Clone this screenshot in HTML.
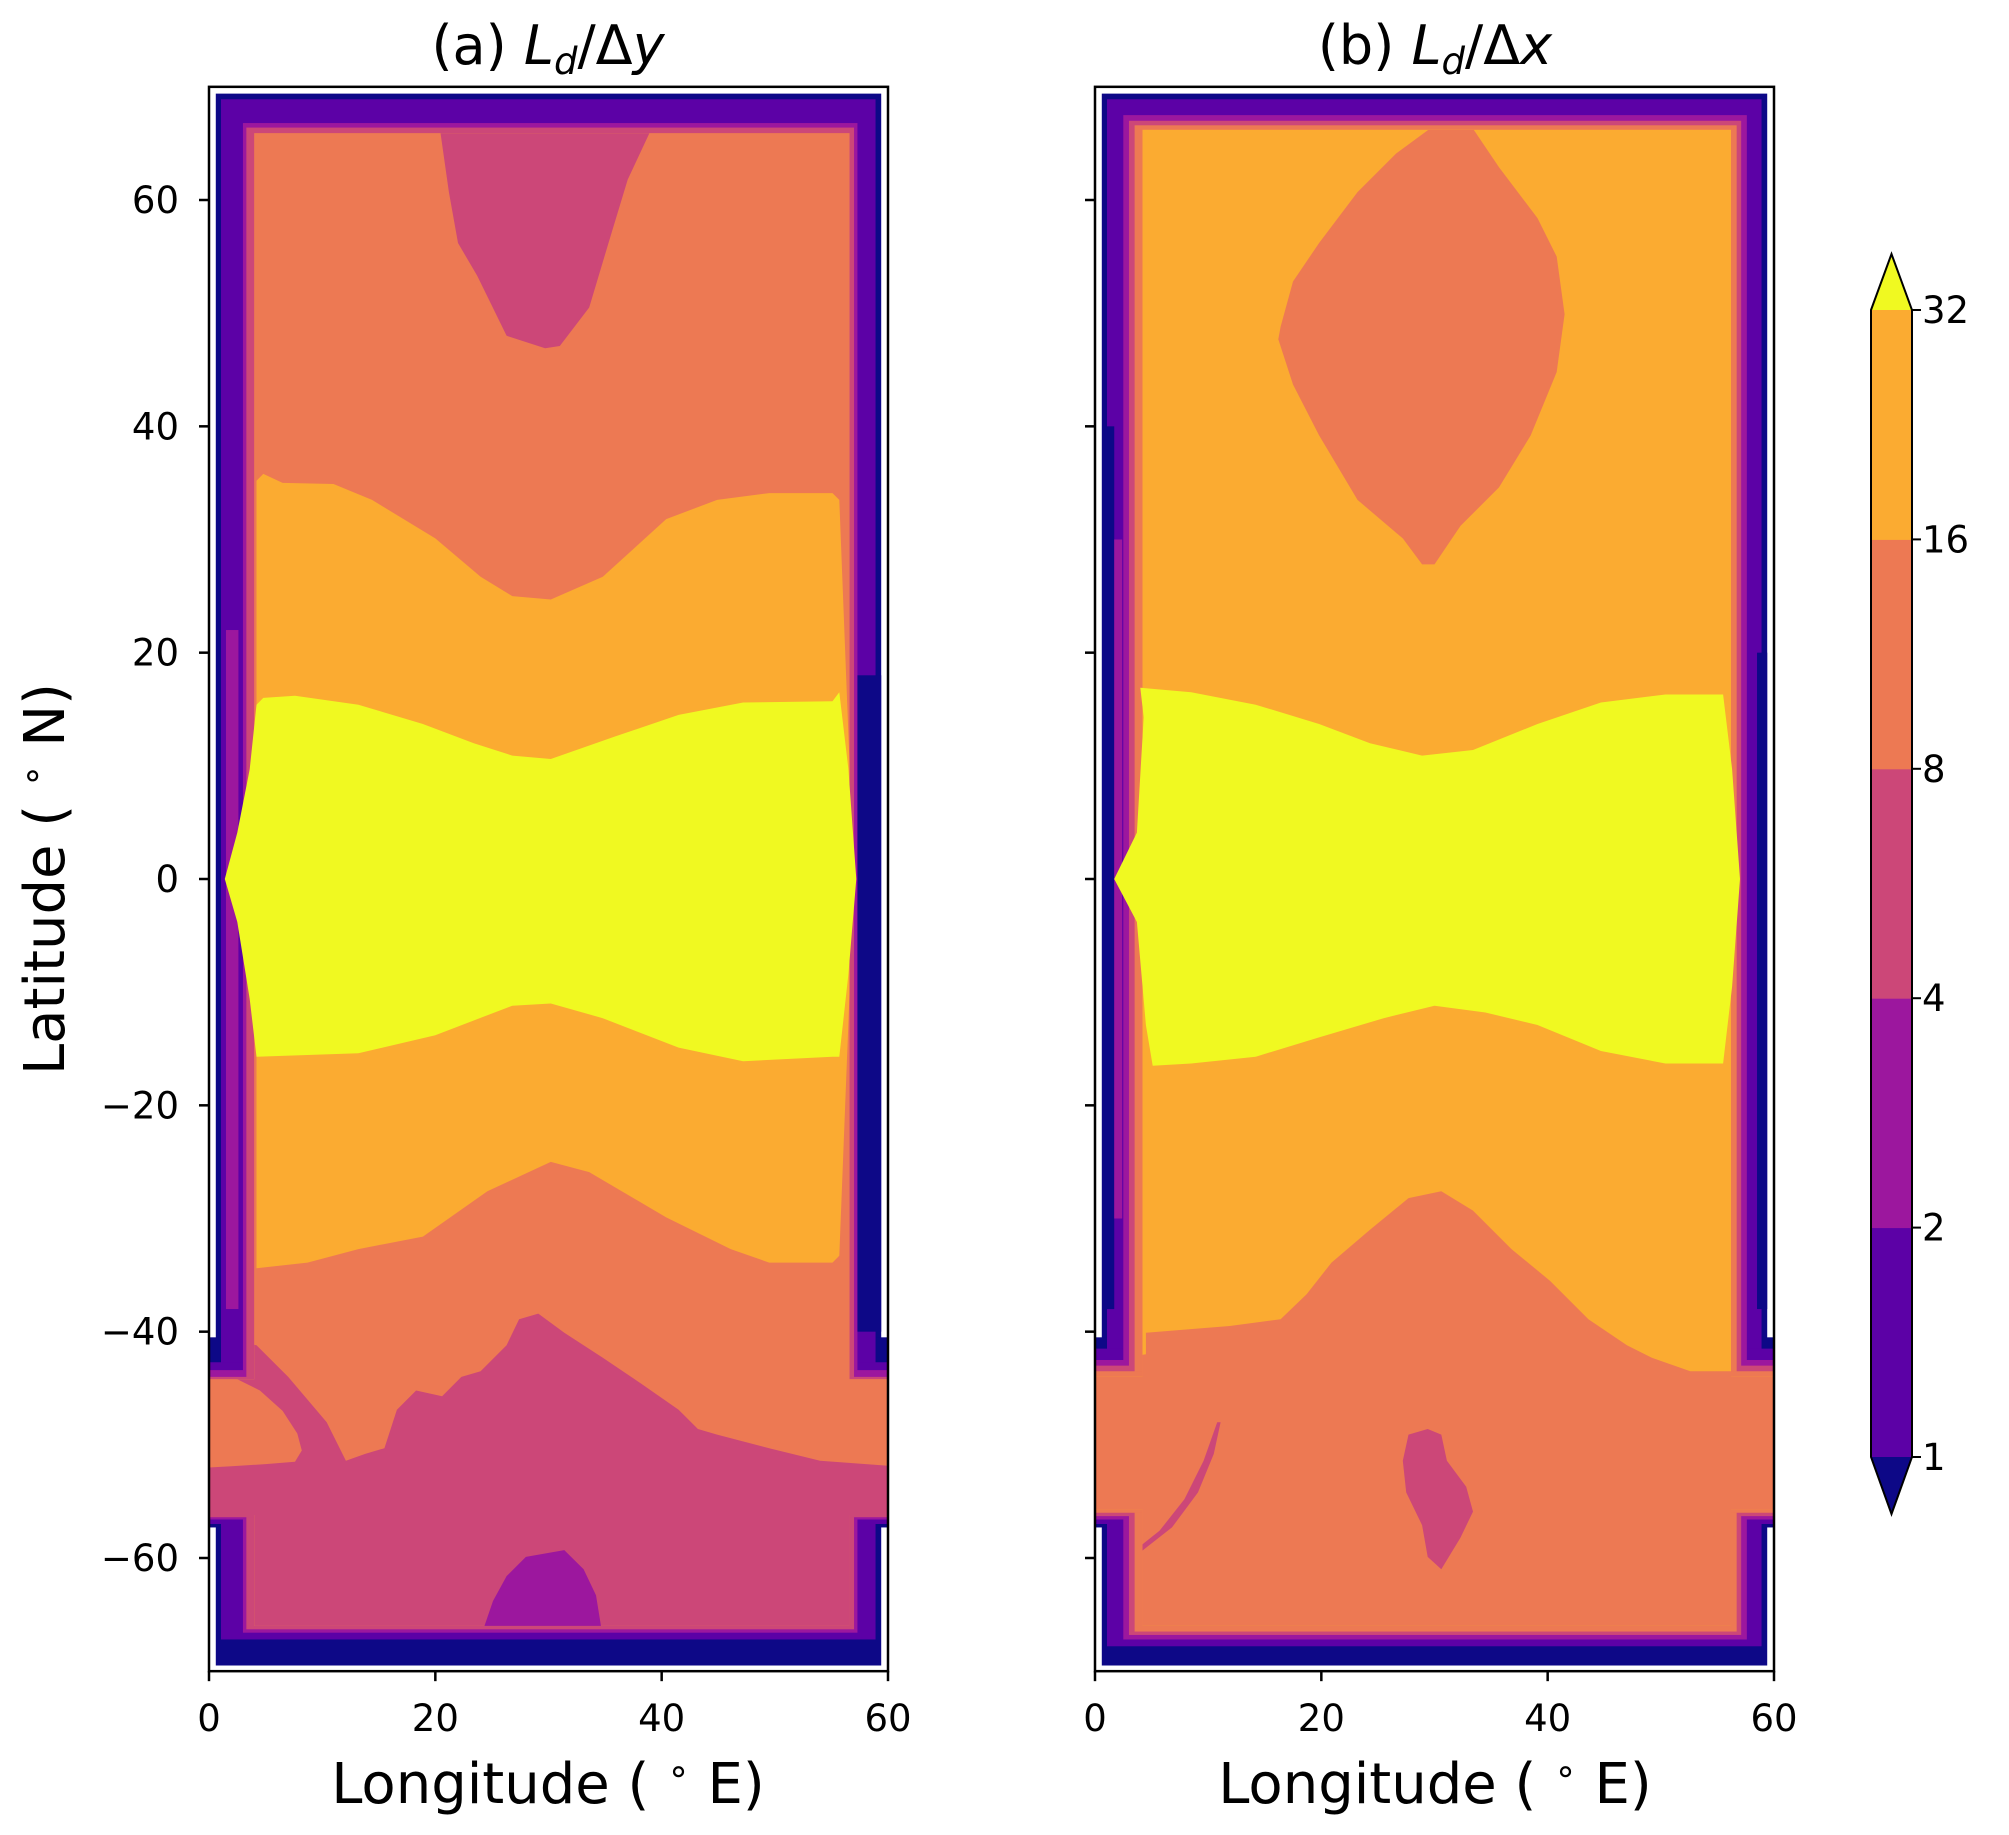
<!DOCTYPE html>
<html><head><meta charset="utf-8"><style>
html,body{margin:0;padding:0;background:#fff;}
svg{display:block;font-family:"DejaVu Sans","Liberation Sans",sans-serif;}
</style></head><body>
<svg id="chart" width="2009" height="1835" viewBox="0 0 2009 1835" xmlns="http://www.w3.org/2000/svg">
<rect width="2009" height="1835" fill="#fff"/>
<defs>
<clipPath id="axA"><rect x="209" y="87" width="679" height="1585"/></clipPath>
<clipPath id="axB"><rect x="1095" y="87" width="680" height="1585"/></clipPath>
</defs>
<g id="panelA"></g>
<g id="panelB"></g>
<g id="cbar"></g>
<text x="548" y="64" font-size="54" text-anchor="middle">(a) <tspan font-style="italic">L</tspan><tspan font-style="italic" font-size="37" dy="10">d</tspan><tspan dy="-10">/Δ</tspan><tspan font-style="italic">y</tspan></text>
<text x="1435" y="64" font-size="54" text-anchor="middle">(b) <tspan font-style="italic">L</tspan><tspan font-style="italic" font-size="37" dy="10">d</tspan><tspan dy="-10">/Δ</tspan><tspan font-style="italic">x</tspan></text>
<text x="548" y="1803" font-size="56" text-anchor="middle">Longitude ( <tspan font-size="36" dy="-20">∘</tspan><tspan dy="20"> E)</tspan></text>
<text x="1435" y="1803" font-size="56" text-anchor="middle">Longitude ( <tspan font-size="36" dy="-20">∘</tspan><tspan dy="20"> E)</tspan></text>
<text transform="translate(64,879) rotate(-90)" font-size="56" text-anchor="middle">Latitude ( <tspan font-size="36" dy="-20">∘</tspan><tspan dy="20"> N)</tspan></text>
</svg>
<script>
const NS="http://www.w3.org/2000/svg";
const colors=["#0d0887","#5c01a6","#9c179e","#cc4778","#ed7953","#fbab31","#f0f921"];
const cbLevels=[1,2,4,8,16,32];
const xTicks=[0,20,40,60];
const yTicks=[-60,-40,-20,0,20,40,60];
const bandsA=[[0,0.6,59.4,-69.5,69.4,-57.3,-40.5],[1,1.06,58.9,-67.2,68.9,-57.0,-42.7],[2,3.0,57.3,-66.6,66.8,-56.6,-43.4],[3,3.3,57.0,-66.3,66.4,-56.4,-44.0],[4,4.0,56.6,-66.0,65.9,-56.2,-44.2]];
const bandsB=[[0,0.6,59.4,-69.5,69.4,-57.3,-40.5],[1,1.06,58.9,-67.8,68.9,-57.0,-41.5],[2,2.5,57.6,-67.2,67.5,-56.6,-42.5],[3,3.0,57.1,-66.8,67.0,-56.3,-43.0],[4,3.5,56.7,-66.5,66.6,-56.0,-43.5],[5,4.2,56.2,-66.0,66.2,-55.7,-44.0]];
const wallStripsA=[[0,57.3,59.4,-40,18],[2,1.5,2.6,-38,22]];
const wallStripsB=[[0,0.8,1.7,-38,40],[0,58.5,59.4,-38,20],[2,1.7,2.4,-30,30]];
const pinkTopA=[[20.4,66.3],[21.2,60.7],[22.0,56.2],[23.7,53.3],[26.3,48.0],[29.7,46.9],[31.0,47.1],[33.6,50.5],[35.3,56.2],[37.0,61.8],[39.1,66.3],[39.1,70],[20.4,70]];
const orangeBandA=[[4.2,35.2],[4.8,35.8],[6.5,35.0],[11.0,34.9],[14.4,33.5],[20.0,30.1],[24.0,26.7],[26.8,25.0],[30.2,24.7],[34.8,26.7],[40.4,31.8],[44.9,33.5],[49.5,34.1],[55.1,34.1],[55.7,33.5],[57,0],[55.7,-33.3],[55.1,-33.9],[49.5,-33.9],[46.1,-32.7],[40.4,-29.9],[33.6,-25.9],[30.2,-25.0],[24.6,-27.6],[18.9,-31.6],[13.2,-32.7],[8.7,-33.9],[4.2,-34.4]];
const yellowA=[[4.2,15.4],[4.8,16.0],[7.6,16.2],[13.2,15.4],[18.9,13.7],[23.4,12.0],[26.8,10.9],[30.2,10.6],[35.9,12.6],[41.5,14.5],[47.2,15.6],[55.1,15.7],[55.7,16.5],[56.5,9.7],[57.2,0],[56.5,-8.4],[55.7,-15.7],[55.1,-15.7],[47.2,-16.1],[41.5,-14.9],[34.8,-12.3],[30.2,-11.0],[26.8,-11.2],[20.0,-13.8],[13.2,-15.4],[4.2,-15.7],[3.6,-10.6],[2.5,-3.8],[1.4,0],[2.5,4.1],[3.6,9.7]];
const pinkBottomA=[[-2,-40.1],[4.2,-41.2],[7.0,-44.0],[10.4,-48.0],[12.1,-51.4],[13.8,-50.8],[15.5,-50.3],[16.6,-46.9],[18.3,-45.2],[20.6,-45.7],[22.3,-44.0],[24.0,-43.5],[26.3,-41.2],[27.4,-38.9],[29.1,-38.4],[31.4,-40.1],[34.8,-42.3],[38.2,-44.6],[41.5,-46.9],[43.2,-48.6],[44.9,-49.1],[49.5,-50.3],[54.0,-51.4],[62,-52.0],[62,-70],[-2,-70]];
const orangeDiskA=[[-2,-43.8],[2.5,-44.2],[4.5,-45.2],[6.5,-47.0],[7.8,-49.0],[8.2,-50.5],[7.6,-51.5],[5,-51.7],[2,-51.9],[-2,-52.1]];
const purpleBlobA=[[24.0,-67],[25.1,-63.8],[26.3,-61.6],[28.0,-59.9],[31.4,-59.3],[33.1,-61.0],[34.2,-63.3],[34.8,-67]];
const orangeBlobB=[[16.4,48.8],[17.5,52.8],[19.8,56.2],[23.2,60.7],[26.6,64.1],[30.0,66.6],[33.4,66.3],[35.7,62.9],[39.1,58.4],[40.8,55.0],[41.5,49.9],[40.8,44.8],[38.5,39.2],[35.7,34.6],[32.3,31.2],[30.0,27.8],[28.9,27.8],[27.2,30.1],[23.2,33.5],[19.8,39.2],[17.5,43.7],[16.2,47.7]];
const yellowB=[[4.0,16.9],[8.5,16.5],[14.2,15.4],[19.8,13.7],[24.3,12.0],[28.9,10.9],[33.4,11.4],[39.1,13.7],[44.7,15.6],[50.4,16.3],[55.5,16.3],[56.3,9.7],[57.0,0],[56.3,-9.5],[55.5,-16.3],[50.4,-16.3],[44.7,-15.2],[39.1,-12.9],[34.5,-11.8],[30.0,-11.2],[25.5,-12.3],[19.8,-14.0],[14.2,-15.7],[8.5,-16.3],[5.1,-16.5],[4.5,-12.9],[3.7,-3.8],[1.7,0],[3.7,4.1],[4.3,14.3]];
const orangeLowB=[[4.5,-40.1],[11.9,-39.5],[16.4,-38.9],[18.7,-36.7],[20.9,-33.9],[24.3,-31.0],[27.7,-28.2],[30.6,-27.6],[33.4,-29.3],[36.8,-32.7],[40.2,-35.5],[43.6,-38.9],[47.0,-41.2],[49.2,-42.3],[52.6,-43.5],[56.6,-43.5],[62,-43.5],[62,-70],[-2,-70],[-2,-43],[4.5,-42]];
const pinkArcB=[[10.8,-48.0],[9.6,-51.4],[7.9,-54.8],[5.7,-57.6],[2.8,-59.9],[4.0,-59.5],[6.8,-57.3],[9.1,-54.2],[10.5,-50.8],[11.1,-48.0]];
const pinkBlobB=[[27.2,-51.4],[27.7,-49.1],[29.4,-48.6],[30.6,-49.1],[31.1,-51.4],[32.8,-53.7],[33.4,-55.9],[32.3,-58.2],[30.6,-61.0],[29.4,-59.9],[28.9,-57.1],[27.5,-54.2]];

const S=679/60, Y0=879;
function mk(tag,attrs,parent){const e=document.createElementNS(NS,tag);for(const k in attrs)e.setAttribute(k,attrs[k]);parent.appendChild(e);return e;}
function panel(gid,X0,clipId,bands,strips,baseIdx,features,yellow,showYLabels){
  const g=document.getElementById(gid);
  const px=lon=>X0+lon*S, py=lat=>Y0-lat*S;
  const inner=mk('g',{'clip-path':'url(#'+clipId+')'},g);
  const rect=(x0,x1,y0,y1,fill,name,rx)=>{const r=mk('rect',{x:px(x0),y:py(y1),width:px(x1)-px(x0),height:py(y0)-py(y1),fill:fill,rx:rx||0},inner);
    
    return r;};
  bands.forEach((b,i)=>{
    const c=colors[b[0]], rx=i*6;
    rect(b[1],b[2],b[3],b[4],c,'wall-band');
    rect(-3,63,b[5],b[6],c,'channel-band',rx);
  });
  strips.forEach(s=>rect(s[1],s[2],s[3],s[4],colors[s[0]],'wall-strip'));
  const last=bands[bands.length-1];
  const fieldClip=mk('clipPath',{id:gid+'-field'},g);
  const fr=(x0,x1,y0,y1,rx)=>mk('rect',{x:px(x0),y:py(y1),width:px(x1)-px(x0),height:py(y0)-py(y1),rx:rx||0},fieldClip);
  fr(last[1],last[2],last[3],last[4]);fr(-3,63,last[5],last[6],30);
  const fg=mk('g',{'clip-path':'url(#'+gid+'-field)'},inner);
  const base=mk('rect',{x:px(-3),y:py(70),width:66*S,height:140*S,fill:colors[baseIdx]},fg);
  
  
  const poly=(pts,ci,name,parent)=>{const p=mk('polygon',{points:pts.map(q=>px(q[0]).toFixed(1)+','+py(q[1]).toFixed(1)).join(' '),fill:colors[ci]},parent);
    
    };
  features.forEach(f=>poly(f[0],f[1],f[2],fg));
  poly(yellow,6,'region-above-32',inner);
  const fx=px(0),fy=py(70),fw=px(60)-px(0),fh=py(-70)-py(70);
  const frame=mk('rect',{x:fx,y:fy,width:fw,height:fh,fill:'none',stroke:'#000','stroke-width':2.5},g);
  
  
  xTicks.forEach(v=>{
    mk('line',{x1:px(v),x2:px(v),y1:fy+fh,y2:fy+fh+10,stroke:'#000','stroke-width':2.5},g);
    const t=mk('text',{x:px(v),y:fy+fh+60,'font-size':37,'text-anchor':'middle'},g);
    
    
    t.textContent=String(v);
  });
  yTicks.forEach(v=>{
    mk('line',{x1:fx-10,x2:fx,y1:py(v),y2:py(v),stroke:'#000','stroke-width':2.5},g);
    if(showYLabels){
      const t=mk('text',{x:fx-30,y:py(v)+13,'font-size':37,'text-anchor':'end'},g);
      
      
      t.textContent=(v<0?'\u2212':'')+Math.abs(v);
    }
  });
}
panel('panelA',209,'axA',bandsA,wallStripsA,4,[[pinkTopA,3,'region-4-8-north'],[orangeBandA,5,'region-16-32'],[pinkBottomA,3,'region-4-8-south'],[orangeDiskA,4,'region-8-16-disk'],[purpleBlobA,2,'region-2-4-south']],yellowA,true);
panel('panelB',1095,'axB',bandsB,wallStripsB,5,[[orangeBlobB,4,'region-8-16-north'],[orangeLowB,4,'region-8-16-south'],[pinkArcB,3,'region-4-8-arc'],[pinkBlobB,3,'region-4-8-blob']],yellowB,false);

(function(){
  const g=document.getElementById('cbar');
  const x0=1871,w=41,yBot=1457,yTop=310,step=(yBot-yTop)/(cbLevels.length-1);
  const yOf=i=>yBot-i*step;
  for(let i=0;i<cbLevels.length-1;i++){
    const r=mk('rect',{x:x0,y:yOf(i+1),width:w,height:step+0.5,fill:colors[i+1]},g);
    
    
  }
  const tb=mk('polygon',{points:`${x0},${yBot} ${x0+w},${yBot} ${x0+w/2},${yBot+57}`,fill:colors[0]},g);
  
  
  const tt=mk('polygon',{points:`${x0},${yTop} ${x0+w},${yTop} ${x0+w/2},${yTop-56}`,fill:colors[6]},g);
  
  
  mk('polygon',{points:`${x0},${yTop} ${x0+w/2},${yTop-56} ${x0+w},${yTop} ${x0+w},${yBot} ${x0+w/2},${yBot+57} ${x0},${yBot}`,fill:'none',stroke:'#000','stroke-width':2},g);
  cbLevels.forEach((v,i)=>{
    mk('line',{x1:x0+w,x2:x0+w+9,y1:yOf(i),y2:yOf(i),stroke:'#000','stroke-width':2},g);
    const t=mk('text',{x:x0+w+10,y:yOf(i)+13,'font-size':37},g);
    
    
    t.textContent=String(v);
  });
})();
</script>
</body></html>
